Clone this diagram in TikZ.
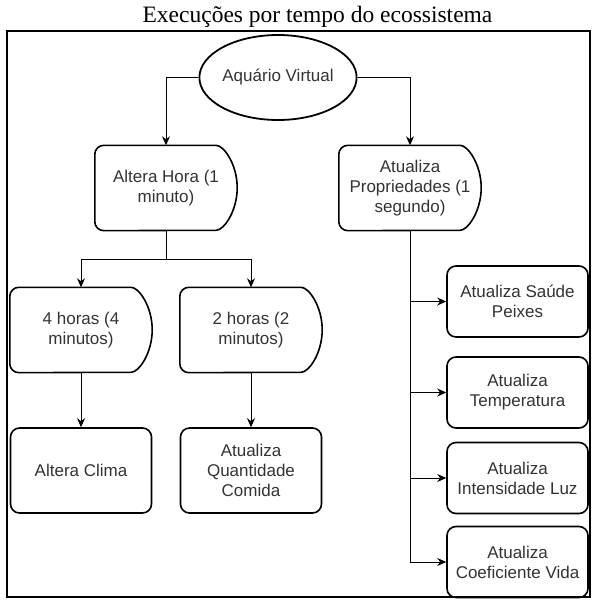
\documentclass[tikz,border=0pt]{standalone}
\usepackage{fontspec}
\setmainfont{Liberation Serif}
\setsansfont{Liberation Sans}
\usetikzlibrary{shapes.geometric, arrows.meta, positioning}

\definecolor{txtgray}{HTML}{333333}

\tikzset{
	boxline/.style={line width=1.6pt, rounded corners=9pt},
	boxtext/.style={text=txtgray, align=center, inner sep=0pt,
		font=\sffamily\fontsize{17}{20}\selectfont},
	roundbox/.style={draw, boxline, boxtext, minimum width=141pt, minimum height=85pt},
	smallbox/.style={roundbox, minimum height=71pt},
	delaybox/.style={boxtext, minimum width=142pt, minimum height=85pt},
	arrow/.style={line width=0.9pt, -{Stealth[length=9pt, width=8pt]}}
}

\begin{document}
\begin{tikzpicture}[x=1pt, y=1pt]
					\useasboundingbox (0,0) rectangle (600,-606);

					\node[anchor=base, font=\fontsize{23.5}{28}\selectfont] (titulo) at (317.5,-22) {Execuções por tempo do ecossistema};

					\node[ellipse, draw, line width=1.8pt, boxtext, minimum width=144pt, minimum height=85pt] (aquario) at (278,-77.5) {Aquário Virtual};

					\node[delaybox] (hora) at (166,-188) {Altera Hora (1\\minuto)};
					\node[delaybox] (prop) at (410,-188) {Atualiza\\Propriedades (1\\segundo)};
					\node[delaybox] (quatro) at (81,-330) {4 horas (4\\minutos)};
					\node[delaybox] (dois) at (251,-330) {2 horas (2\\minutos)};

					\node[roundbox] (clima) at (81,-470.5) {Altera Clima};
					\node[roundbox] (comida) at (251,-470.5) {Atualiza\\Quantidade\\Comida};

					\node[smallbox] (saude) at (517.5,-301.5) {Atualiza Saúde\\Peixes};
					\node[smallbox] (temp) at (517.5,-392.5) {Atualiza\\Temperatura};
					\node[smallbox] (luz) at (517.5,-478) {Atualiza\\Intensidade Luz};
					\node[smallbox] (vida) at (517.5,-562) {Atualiza\\Coeficiente Vida};

					\foreach \n in {hora, prop, quatro, dois}
						\draw[boxline] ([xshift=-30pt]\n.north east)
							arc[start angle=90, end angle=-90, x radius=30pt, y radius=42.5pt]
							-- (\n.south west) -- (\n.north west) -- cycle;

					\draw[arrow] (aquario.west) -| (hora.north);
					\draw[arrow] (aquario.east) -| (prop.north);

					\coordinate (divide) at (166,-259);
					\draw[arrow] (hora.south) -- (divide) -| (quatro.north);
					\draw[arrow] (divide) -| (dois.north);
					\draw[arrow] (quatro.south) -- (clima.north);
					\draw[arrow] (dois.south) -- (comida.north);

					\draw[arrow] (prop.south) |- (vida.west);
					\foreach \n in {saude, temp, luz}
						\draw[arrow] (prop.south |- \n.west) -- (\n.west);

					\draw[line width=2.4pt] (7,-31) rectangle (590,-597);
				\end{tikzpicture}
\end{document}
